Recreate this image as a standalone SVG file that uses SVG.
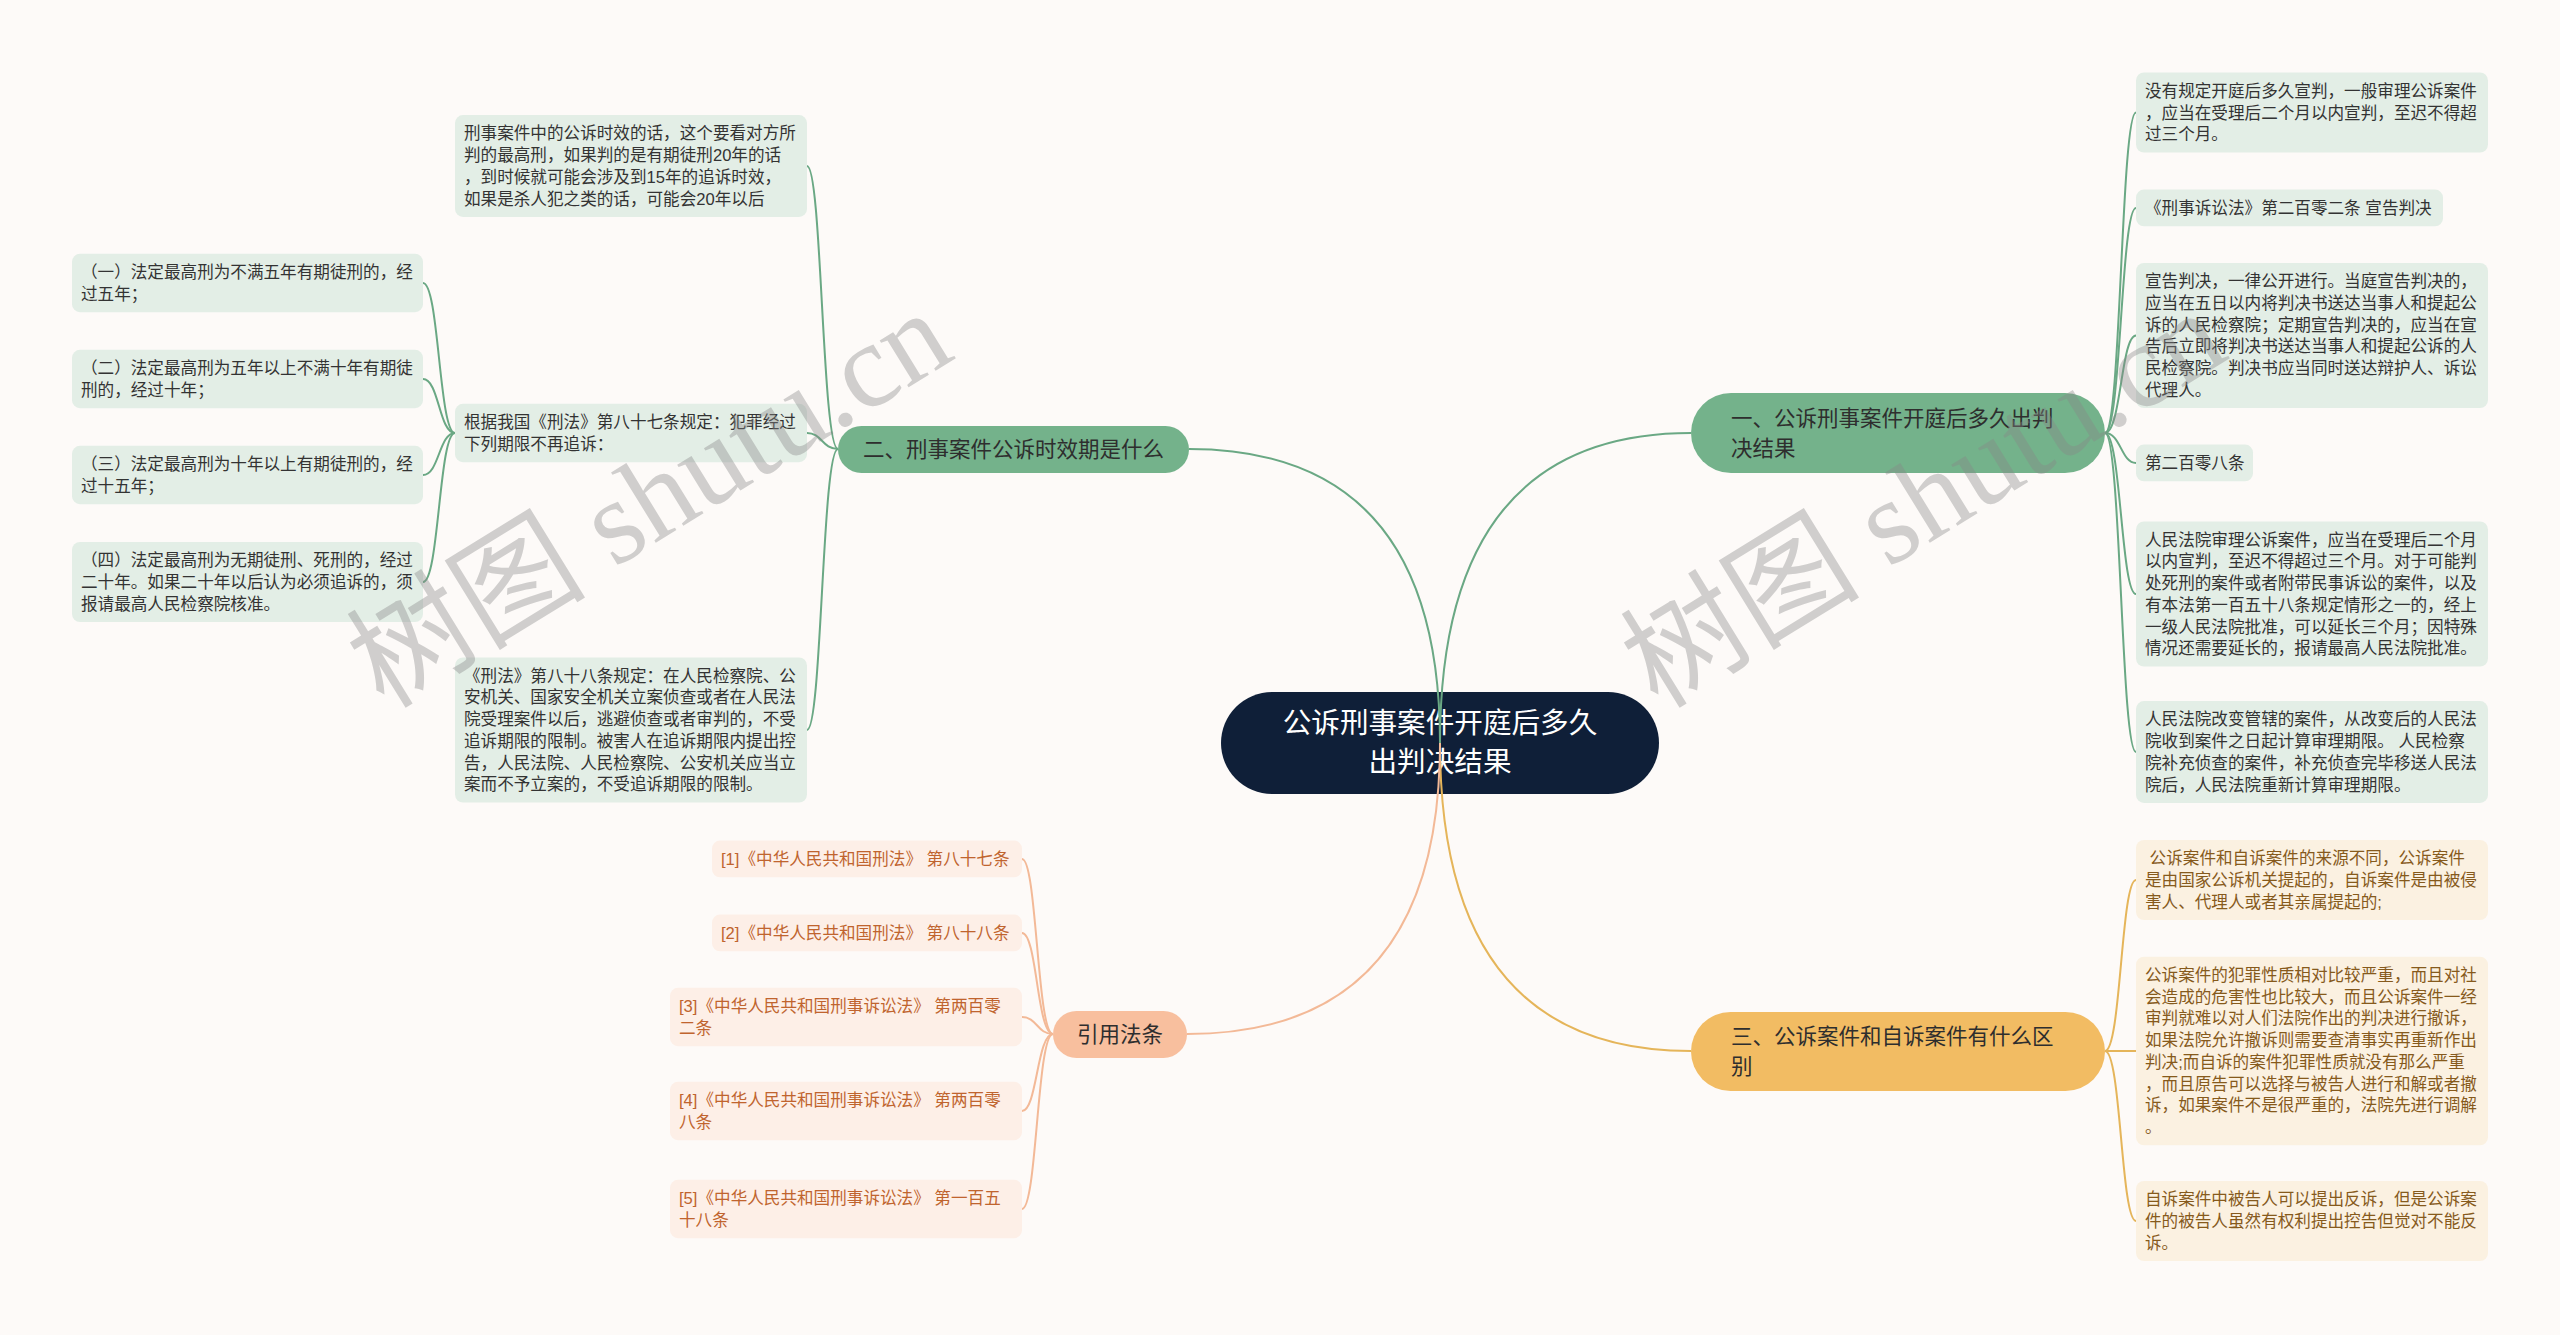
<svg xmlns="http://www.w3.org/2000/svg" width="2560" height="1335" viewBox="0 0 2560 1335">
<style>
.t{font-family:"Liberation Sans","Noto Sans CJK SC",sans-serif;}
.leaf{font-size:16.6px;white-space:pre;}
.gl{fill:#e3eee6;}
.glt{fill:#333333;}
.ol{fill:#fbf1e1;}
.olt{fill:#865a1c;}
.sl{fill:#fdefe7;}
.slt{fill:#c0642e;}
.br{font-size:21.5px;fill:#2e2e2e;}
.cg{fill:none;stroke:#6aa884;stroke-width:2;}
.co{fill:none;stroke:#e5b55a;stroke-width:2;}
.cs{fill:none;stroke:#f3b997;stroke-width:2;}
.wm{font-family:"Liberation Serif","Noto Sans CJK SC",serif;font-size:120px;fill:#888888;opacity:0.38;}
</style>
<rect x="0" y="0" width="2560" height="1335" fill="#fdfaf8"/>

<g id="root">
<rect x="1221" y="692" width="438" height="102" rx="51" fill="#0f1f38"/>
<text class="t" x="1440" y="732.5" font-size="28.6" fill="#ffffff" text-anchor="middle">公诉刑事案件开庭后多久</text>
<text class="t" x="1440" y="771.5" font-size="28.6" fill="#ffffff" text-anchor="middle">出判决结果</text>
</g>

<g id="connectors">
<path class="cg" stroke-width="2.5" d="M1440,743 Q1440,433 1691,433"/>
<path class="cg" stroke-width="2.5" d="M1440,743 Q1440,449 1189,449"/>
<path class="co" stroke-width="2.5" d="M1440,743 Q1440,1051 1691,1051"/>
<path class="cs" stroke-width="2.5" d="M1440,743 Q1440,1034 1187,1034"/>
<path class="cg" d="M2105,433 C2121,433 2121,112.5 2136,112.5"/>
<path class="cg" d="M2105,433 C2121,433 2121,208 2136,208"/>
<path class="cg" d="M2105,433 C2121,433 2121,335.5 2136,335.5"/>
<path class="cg" d="M2105,433 C2121,433 2121,463 2136,463"/>
<path class="cg" d="M2105,433 C2121,433 2121,594 2136,594"/>
<path class="cg" d="M2105,433 C2121,433 2121,752 2136,752"/>
<path class="co" d="M2105,1051 C2121,1051 2121,880 2136,880"/>
<path class="co" d="M2105,1051 C2121,1051 2121,1051 2136,1051"/>
<path class="co" d="M2105,1051 C2121,1051 2121,1221 2136,1221"/>
<path class="cg" d="M838,449 C822,449 822,166 807,166"/>
<path class="cg" d="M838,449 C822,449 822,433 807,433"/>
<path class="cg" d="M838,449 C822,449 822,730 807,730"/>
<path class="cg" d="M455,433 C439,433 439,283 423,283"/>
<path class="cg" d="M455,433 C439,433 439,379 423,379"/>
<path class="cg" d="M455,433 C439,433 439,475 423,475"/>
<path class="cg" d="M455,433 C439,433 439,582 423,582"/>
<path class="cs" d="M1053,1034 C1037,1034 1037,859 1022,859"/>
<path class="cs" d="M1053,1034 C1037,1034 1037,933 1022,933"/>
<path class="cs" d="M1053,1034 C1037,1034 1037,1017 1022,1017"/>
<path class="cs" d="M1053,1034 C1037,1034 1037,1111 1022,1111"/>
<path class="cs" d="M1053,1034 C1037,1034 1037,1209 1022,1209"/>
</g>

<g id="b1">
<rect x="1691" y="393" width="414" height="80" rx="40" fill="#74b28b"/>
<text class="t br" x="1731" y="426">一、公诉刑事案件开庭后多久出判</text>
<text class="t br" x="1731" y="456">决结果</text>
</g>
<g id="b2">
<rect x="838" y="426" width="351" height="47" rx="23.5" fill="#74b28b"/>
<text class="t br" x="1013.5" y="457" text-anchor="middle">二、刑事案件公诉时效期是什么</text>
</g>
<g id="b3">
<rect x="1691" y="1012" width="414" height="79" rx="39.5" fill="#f2bc63"/>
<text class="t br" x="1731" y="1044">三、公诉案件和自诉案件有什么区</text>
<text class="t br" x="1731" y="1074">别</text>
</g>
<g id="b4">
<rect x="1053" y="1011" width="134" height="47" rx="23.5" fill="#f8bf9e"/>
<text class="t br" x="1120" y="1042" text-anchor="middle" fill="#4a3328">引用法条</text>
</g>

<g id="r1">
<rect class="gl" x="2136" y="72.4" width="352" height="80.1" rx="8"/>
<text class="t leaf glt" y="96.8"><tspan x="2145">没有规定开庭后多久宣判，一般审理公诉案件</tspan><tspan x="2145" dy="21.7">，应当在受理后二个月以内宣判，至迟不得超</tspan><tspan x="2145" dy="21.7">过三个月。</tspan></text>
</g>
<g id="r2">
<rect class="gl" x="2136" y="189.6" width="307" height="36.7" rx="8"/>
<text class="t leaf glt" x="2145" y="214">《刑事诉讼法》第二百零二条 宣告判决</text>
</g>
<g id="r3">
<rect class="gl" x="2136" y="262.9" width="352" height="145.2" rx="8"/>
<text class="t leaf glt" y="287.25"><tspan x="2145">宣告判决，一律公开进行。当庭宣告判决的，</tspan><tspan x="2145" dy="21.7">应当在五日以内将判决书送达当事人和提起公</tspan><tspan x="2145" dy="21.7">诉的人民检察院；定期宣告判决的，应当在宣</tspan><tspan x="2145" dy="21.7">告后立即将判决书送达当事人和提起公诉的人</tspan><tspan x="2145" dy="21.7">民检察院。判决书应当同时送达辩护人、诉讼</tspan><tspan x="2145" dy="21.7">代理人。</tspan></text>
</g>
<g id="r4">
<rect class="gl" x="2136" y="444.6" width="117" height="36.7" rx="8"/>
<text class="t leaf glt" x="2145" y="469">第二百零八条</text>
</g>
<g id="r5">
<rect class="gl" x="2136" y="521.4" width="352" height="145.2" rx="8"/>
<text class="t leaf glt" y="545.75"><tspan x="2145">人民法院审理公诉案件，应当在受理后二个月</tspan><tspan x="2145" dy="21.7">以内宣判，至迟不得超过三个月。对于可能判</tspan><tspan x="2145" dy="21.7">处死刑的案件或者附带民事诉讼的案件，以及</tspan><tspan x="2145" dy="21.7">有本法第一百五十八条规定情形之一的，经上</tspan><tspan x="2145" dy="21.7">一级人民法院批准，可以延长三个月；因特殊</tspan><tspan x="2145" dy="21.7">情况还需要延长的，报请最高人民法院批准。</tspan></text>
</g>
<g id="r6">
<rect class="gl" x="2136" y="701.1" width="352" height="101.8" rx="8"/>
<text class="t leaf glt" y="725.45"><tspan x="2145">人民法院改变管辖的案件，从改变后的人民法</tspan><tspan x="2145" dy="21.7">院收到案件之日起计算审理期限。 人民检察</tspan><tspan x="2145" dy="21.7">院补充侦查的案件，补充侦查完毕移送人民法</tspan><tspan x="2145" dy="21.7">院后，人民法院重新计算审理期限。</tspan></text>
</g>

<g id="o1">
<rect class="ol" x="2136" y="840" width="352" height="80.1" rx="8"/>
<text class="t leaf olt" y="864.3"><tspan x="2145"> 公诉案件和自诉案件的来源不同，公诉案件</tspan><tspan x="2145" dy="21.7">是由国家公诉机关提起的，自诉案件是由被侵</tspan><tspan x="2145" dy="21.7">害人、代理人或者其亲属提起的;</tspan></text>
</g>
<g id="o2">
<rect class="ol" x="2136" y="956.7" width="352" height="188.6" rx="8"/>
<text class="t leaf olt" y="981.05"><tspan x="2145">公诉案件的犯罪性质相对比较严重，而且对社</tspan><tspan x="2145" dy="21.7">会造成的危害性也比较大，而且公诉案件一经</tspan><tspan x="2145" dy="21.7">审判就难以对人们法院作出的判决进行撤诉，</tspan><tspan x="2145" dy="21.7">如果法院允许撤诉则需要查清事实再重新作出</tspan><tspan x="2145" dy="21.7">判决;而自诉的案件犯罪性质就没有那么严重</tspan><tspan x="2145" dy="21.7">，而且原告可以选择与被告人进行和解或者撤</tspan><tspan x="2145" dy="21.7">诉，如果案件不是很严重的，法院先进行调解</tspan><tspan x="2145" dy="21.7">。</tspan></text>
</g>
<g id="o3">
<rect class="ol" x="2136" y="1181" width="352" height="80.1" rx="8"/>
<text class="t leaf olt" y="1205.3"><tspan x="2145">自诉案件中被告人可以提出反诉，但是公诉案</tspan><tspan x="2145" dy="21.7">件的被告人虽然有权利提出控告但觉对不能反</tspan><tspan x="2145" dy="21.7">诉。</tspan></text>
</g>

<g id="l1">
<rect class="gl" x="455" y="115.1" width="352" height="101.8" rx="8"/>
<text class="t leaf glt" y="139.45"><tspan x="464">刑事案件中的公诉时效的话，这个要看对方所</tspan><tspan x="464" dy="21.7">判的最高刑，如果判的是有期徒刑20年的话</tspan><tspan x="464" dy="21.7">，到时候就可能会涉及到15年的追诉时效，</tspan><tspan x="464" dy="21.7">如果是杀人犯之类的话，可能会20年以后</tspan></text>
</g>
<g id="l2">
<rect class="gl" x="455" y="403.8" width="352" height="58.4" rx="8"/>
<text class="t leaf glt" y="428.15"><tspan x="464">根据我国《刑法》第八十七条规定：犯罪经过</tspan><tspan x="464" dy="21.7">下列期限不再追诉：</tspan></text>
</g>
<g id="l3">
<rect class="gl" x="455" y="657.4" width="352" height="145.2" rx="8"/>
<text class="t leaf glt" y="681.75"><tspan x="464">《刑法》第八十八条规定：在人民检察院、公</tspan><tspan x="464" dy="21.7">安机关、国家安全机关立案侦查或者在人民法</tspan><tspan x="464" dy="21.7">院受理案件以后，逃避侦查或者审判的，不受</tspan><tspan x="464" dy="21.7">追诉期限的限制。被害人在追诉期限内提出控</tspan><tspan x="464" dy="21.7">告，人民法院、人民检察院、公安机关应当立</tspan><tspan x="464" dy="21.7">案而不予立案的，不受追诉期限的限制。</tspan></text>
</g>
<g id="s1">
<rect class="gl" x="72" y="253.8" width="351" height="58.4" rx="8"/>
<text class="t leaf glt" y="278.15"><tspan x="81">（一）法定最高刑为不满五年有期徒刑的，经</tspan><tspan x="81" dy="21.7">过五年；</tspan></text>
</g>
<g id="s2">
<rect class="gl" x="72" y="349.8" width="351" height="58.4" rx="8"/>
<text class="t leaf glt" y="374.15"><tspan x="81">（二）法定最高刑为五年以上不满十年有期徒</tspan><tspan x="81" dy="21.7">刑的，经过十年；</tspan></text>
</g>
<g id="s3">
<rect class="gl" x="72" y="445.8" width="351" height="58.4" rx="8"/>
<text class="t leaf glt" y="470.15"><tspan x="81">（三）法定最高刑为十年以上有期徒刑的，经</tspan><tspan x="81" dy="21.7">过十五年；</tspan></text>
</g>
<g id="s4">
<rect class="gl" x="72" y="542" width="351" height="80.1" rx="8"/>
<text class="t leaf glt" y="566.3"><tspan x="81">（四）法定最高刑为无期徒刑、死刑的，经过</tspan><tspan x="81" dy="21.7">二十年。如果二十年以后认为必须追诉的，须</tspan><tspan x="81" dy="21.7">报请最高人民检察院核准。</tspan></text>
</g>

<g id="f1">
<rect class="sl" x="712" y="840.6" width="310" height="36.7" rx="8"/>
<text class="t leaf slt" x="721" y="865">[1]《中华人民共和国刑法》 第八十七条</text>
</g>
<g id="f2">
<rect class="sl" x="712" y="914.6" width="310" height="36.7" rx="8"/>
<text class="t leaf slt" x="721" y="939">[2]《中华人民共和国刑法》 第八十八条</text>
</g>
<g id="f3">
<rect class="sl" x="670" y="987.8" width="352" height="58.4" rx="8"/>
<text class="t leaf slt" y="1012.15"><tspan x="679">[3]《中华人民共和国刑事诉讼法》 第两百零</tspan><tspan x="679" dy="21.7">二条</tspan></text>
</g>
<g id="f4">
<rect class="sl" x="670" y="1081.8" width="352" height="58.4" rx="8"/>
<text class="t leaf slt" y="1106.15"><tspan x="679">[4]《中华人民共和国刑事诉讼法》 第两百零</tspan><tspan x="679" dy="21.7">八条</tspan></text>
</g>
<g id="f5">
<rect class="sl" x="670" y="1179.8" width="352" height="58.4" rx="8"/>
<text class="t leaf slt" y="1204.15"><tspan x="679">[5]《中华人民共和国刑事诉讼法》 第一百五</tspan><tspan x="679" dy="21.7">十八条</tspan></text>
</g>

<g id="watermark">
<text class="wm" transform="translate(384,710) rotate(-31.6)">树图 shutu.cn</text>
<text class="wm" transform="translate(1658,710) rotate(-31.6)">树图 shutu.cn</text>
</g>
</svg>
